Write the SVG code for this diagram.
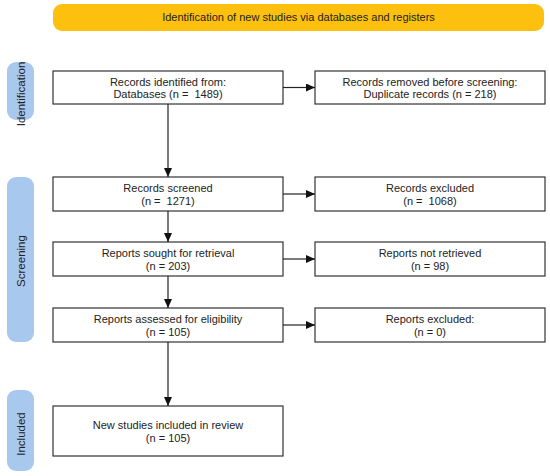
<svg xmlns="http://www.w3.org/2000/svg" width="550" height="476" viewBox="0 0 550 476">
<style>
.box{fill:#fff;stroke:#333;stroke-width:1.2}
.pill{fill:#a9c8ee}
.t{font-family:"Liberation Sans",Arial,sans-serif;font-size:11px;fill:#222;text-anchor:middle;white-space:pre}
.pt{font-family:"Liberation Sans",Arial,sans-serif;font-size:11.5px;fill:#222;text-anchor:middle}
.c{stroke:#222;stroke-width:1.2;fill:none;marker-end:url(#ah)}
</style>
<defs>
<marker id="ah" markerUnits="userSpaceOnUse" markerWidth="9" markerHeight="8" refX="9" refY="4" orient="auto">
<path d="M0,0 L9,4 L0,8 z" fill="#111"/>
</marker>
</defs>
<rect width="550" height="476" fill="#fff"/>
<g id="banner">
<rect x="53" y="4" width="491" height="27" rx="9" fill="#fec00f"/>
<text class="t" x="298.5" y="21" font-size="10.3">Identification of new studies via databases and registers</text>
</g>
<g id="phase-identification">
<rect class="pill" x="7" y="62" width="27" height="58" rx="9"/>
<text class="pt" transform="translate(24.5,94) rotate(-90)">Identification</text>
</g>
<g id="phase-screening">
<rect class="pill" x="7" y="177" width="27" height="165" rx="9"/>
<text class="pt" transform="translate(24.5,261) rotate(-90)">Screening</text>
</g>
<g id="phase-included">
<rect class="pill" x="7" y="390" width="27" height="81" rx="9"/>
<text class="pt" transform="translate(24.5,434) rotate(-90)">Included</text>
</g>
<g id="n-identified">
<rect class="box" x="53" y="71" width="230" height="33"/>
<text class="t" x="168" y="85.5">Records identified from:</text>
<text class="t" x="168" y="98">Databases (n =  1489)</text>
</g>
<g id="n-removed">
<rect class="box" x="315" y="71" width="230" height="33"/>
<text class="t" x="430" y="85.5">Records removed before screening:</text>
<text class="t" x="430" y="98">Duplicate records (n = 218)</text>
</g>
<g id="n-screened">
<rect class="box" x="53" y="177" width="230" height="34"/>
<text class="t" x="168" y="192">Records screened</text>
<text class="t" x="168" y="204.5">(n =  1271)</text>
</g>
<g id="n-excluded">
<rect class="box" x="315" y="177" width="230" height="34"/>
<text class="t" x="430" y="192">Records excluded</text>
<text class="t" x="430" y="204.5">(n =  1068)</text>
</g>
<g id="n-sought">
<rect class="box" x="53" y="242" width="230" height="34"/>
<text class="t" x="168" y="257">Reports sought for retrieval</text>
<text class="t" x="168" y="269.5">(n = 203)</text>
</g>
<g id="n-notretrieved">
<rect class="box" x="315" y="242" width="230" height="34"/>
<text class="t" x="430" y="257">Reports not retrieved</text>
<text class="t" x="430" y="269.5">(n = 98)</text>
</g>
<g id="n-assessed">
<rect class="box" x="53" y="308" width="230" height="34"/>
<text class="t" x="168" y="323">Reports assessed for eligibility</text>
<text class="t" x="168" y="335.5">(n = 105)</text>
</g>
<g id="n-reportsexcluded">
<rect class="box" x="315" y="308" width="230" height="34"/>
<text class="t" x="430" y="323">Reports excluded:</text>
<text class="t" x="430" y="335.5">(n = 0)</text>
</g>
<g id="n-included">
<rect class="box" x="53" y="406" width="230" height="50"/>
<text class="t" x="168" y="428.5">New studies included in review</text>
<text class="t" x="168" y="442">(n = 105)</text>
</g>
<g id="connectors">
<line class="c" x1="168" y1="104" x2="168" y2="177"/>
<line class="c" x1="168" y1="211" x2="168" y2="242"/>
<line class="c" x1="168" y1="276" x2="168" y2="308"/>
<line class="c" x1="168" y1="342" x2="168" y2="406"/>
<line class="c" x1="283" y1="87.5" x2="315" y2="87.5"/>
<line class="c" x1="283" y1="194" x2="315" y2="194"/>
<line class="c" x1="283" y1="259" x2="315" y2="259"/>
<line class="c" x1="283" y1="325" x2="315" y2="325"/>
</g>
</svg>
